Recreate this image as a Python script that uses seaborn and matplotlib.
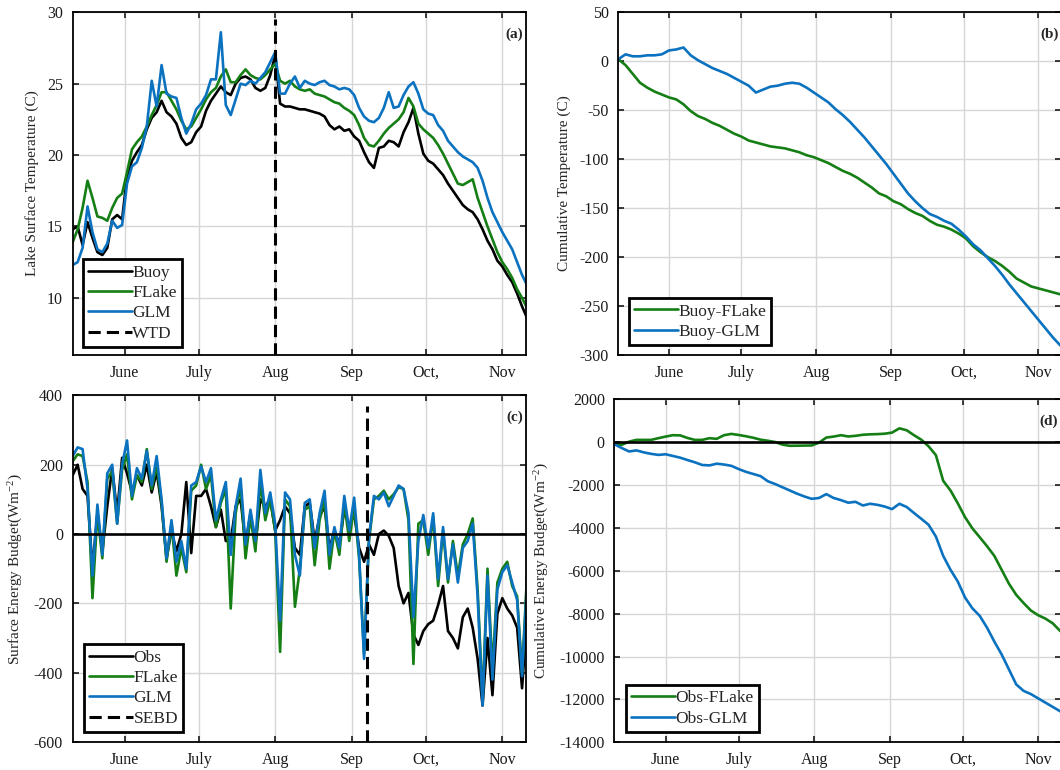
import matplotlib
matplotlib.use("Agg")
import matplotlib.pyplot as plt
import pandas as pd
import seaborn as sns
from matplotlib.lines import Line2D

# ---------------------------------------------------------------------------
# Data: lake surface temperature (every 2 days from 11 May), surface energy
# budget (every 2 days) and cumulative differences (every 3 days).
# ---------------------------------------------------------------------------
start_date = "2015-05-11"
end_date = "2015-11-10 14:00"

buoy_temp = [
    14.8, 15.0, 13.7, 15.3, 14.2, 13.2, 13.0, 13.5, 15.5, 15.8,
    15.5, 18.5, 19.6, 20.2, 20.7, 21.8, 22.6, 23.0, 23.8, 23.0,
    22.7, 22.2, 21.2, 20.7, 20.9, 21.6, 22.0, 23.1, 23.8, 24.3,
    24.8, 24.4, 24.2, 25.0, 25.4, 25.5, 25.3, 24.7, 24.5, 24.7,
    25.6, 27.0, 23.6, 23.4, 23.4, 23.3, 23.2, 23.2, 23.1, 23.0,
    22.9, 22.7, 22.1, 21.8, 22.0, 21.7, 21.8, 21.3, 21.0, 20.2,
    19.5, 19.1, 20.5, 20.6, 21.0, 20.9, 20.6, 21.6, 22.3, 23.3,
    21.5, 20.1, 19.6, 19.4, 19.0, 18.6, 18.0, 17.5, 17.0, 16.5,
    16.2, 16.0, 15.5, 14.8, 14.0, 13.4, 12.6, 12.2, 11.6, 11.1,
    10.3, 9.4, 8.6,
]
flake_temp = [
    13.9, 14.8, 16.3, 18.2, 17.0, 15.7, 15.6, 15.4, 16.3, 17.0,
    17.3, 18.8, 20.4, 20.9, 21.3, 22.0, 22.8, 23.5, 24.4, 24.4,
    23.8, 23.2, 22.4, 21.8, 22.0, 22.6, 23.2, 23.9, 24.4, 24.7,
    25.5, 26.0, 25.1, 25.1, 25.6, 26.0, 25.6, 25.4, 25.3, 25.6,
    26.0, 26.4, 25.2, 25.0, 25.2, 24.8, 24.6, 24.5, 24.6, 24.3,
    24.2, 24.1, 23.9, 23.7, 23.6, 23.3, 23.1, 22.8, 22.1, 21.2,
    20.7, 20.6, 21.0, 21.5, 21.9, 22.2, 22.5, 23.0, 24.0, 23.4,
    22.2, 21.8, 21.5, 21.2, 20.7, 20.1, 19.4, 18.7, 18.0, 17.9,
    18.1, 18.3, 17.0, 16.0, 15.0, 14.1, 13.2, 12.5, 12.0, 11.4,
    10.6, 10.0, 9.3,
]
glm_temp = [
    12.3, 12.5, 13.5, 16.4, 14.6, 13.4, 13.2, 13.8, 15.4, 14.9,
    15.1, 18.0, 19.2, 19.5, 20.5, 22.0, 25.2, 23.4, 26.3, 24.3,
    24.1, 24.0, 22.6, 21.5, 22.2, 23.2, 23.6, 24.2, 25.3, 25.3,
    28.6, 23.5, 22.8, 23.9, 25.0, 24.9, 25.2, 25.0, 25.4, 25.8,
    26.5, 27.2, 24.3, 24.3, 25.0, 25.5, 24.7, 25.2, 25.0, 24.9,
    25.1, 25.2, 24.9, 24.8, 24.6, 24.7, 24.6, 24.2, 23.3, 22.7,
    22.4, 22.3, 22.6, 23.3, 24.4, 23.3, 23.4, 24.2, 24.8, 25.1,
    24.3, 23.2, 22.9, 22.8, 22.1, 21.7, 21.0, 20.6, 20.2, 19.9,
    19.7, 19.5, 19.1, 18.2, 17.0, 16.0, 15.3, 14.6, 14.0, 13.4,
    12.5, 11.6, 10.9,
]

cum_buoy_flake = [
    2, -4, -13, -22, -27, -31, -34, -37, -39, -44,
    -51, -56, -59, -63, -66, -70, -74, -77, -81, -83,
    -85, -87, -88, -89, -91, -93, -96, -98, -101, -104,
    -108, -112, -115, -119, -124, -129, -135, -138, -143, -146,
    -151, -155, -158, -163, -167, -169, -172, -176, -181, -189,
    -195, -200, -204, -209, -215, -222, -226, -230, -232, -234,
    -236, -238, -239,
]
cum_buoy_glm = [
    2, 7, 5, 5, 6, 6, 7, 11, 12, 14,
    6, 1, -3, -7, -10, -13, -17, -21, -25, -32,
    -29, -26, -25, -23, -22, -23, -27, -32, -37, -42,
    -49, -55, -62, -70, -78, -87, -96, -105, -115, -125,
    -135, -143, -150, -156, -159, -163, -166, -172, -179, -187,
    -193, -201, -209, -218, -228, -237, -246, -255, -264, -273,
    -282, -290, -297,
]

obs_seb = [
    170, 200, 130, 110, -100, 60, -50, 80, 190, 60,
    220, 175, 120, 170, 140, 200, 120, 180, 80, -70,
    10, -50, 0, 150, -55, 110, 110, 130, 80, 20,
    70, -20, -20, 80, 100, -30, 60, -30, 100, 80,
    100, 10, 40, 80, 60, -40, -60, 80, 90, -20,
    50, 80, -40, 10, -30, 70, 20, 60, -40, -80,
    -30, -60, 0, 10, -5, -40, -150, -200, -170, -290,
    -320, -280, -260, -250, -205, -150, -280, -300, -330, -240,
    -215, -270, -360, -495, -300, -465, -230, -185, -215, -235,
    -270, -445, -240,
]
flake_seb = [
    210, 230, 225, 150, -185, 60, -70, 160, 180, 30,
    185, 230, 100, 170, 150, 245, 130, 200, 90, -80,
    30, -120, -40, -110, 125, 140, 200, 130, 170, 20,
    90, 130, -215, 60, 140, -70, 50, -50, 150, 40,
    100, 10, -340, 100, 80, -210, -100, 70, 80, -90,
    40, 100, -100, 10, -60, 90, -20, 80, -70, -345,
    -20, 100, 110, 125, 100, 115, 135, 130, 40, -375,
    30, 40, -60, 50, -150, 10, -140, -20, -120, -30,
    0, 45, -160, -480, -100, -390, -140, -100, -80, -150,
    -180, -400, -120,
]
glm_seb = [
    225, 250, 245, 130, -120, 85, -60, 175, 200, 30,
    200, 270, 110, 190, 160, 240, 140, 225, 100, -70,
    40, -80, -20, -100, 140, 150, 195, 150, 190, 40,
    100, 150, -60, 80, 160, -30, 70, -20, 185, 60,
    120, 30, -250, 120, 100, -60, -120, 90, 100, -40,
    60, 125, -60, 20, -40, 110, 10, 105, -60, -360,
    -10, 110, 100, 120, 80, 110, 140, 130, 60, -240,
    -20, 55, -40, 60, -130, 20, -130, -30, -140, -40,
    -20, 30, -180, -495, -120, -420, -160, -110, -90, -140,
    -190, -410, -140,
]

cum_obs_flake = [
    -90, -120, 30, 110, 110, 110, 190, 265, 330, 320,
    200, 110, 110, 190, 160, 330, 390, 340, 280, 210,
    120, 70, 10, -110, -165, -160, -155, -150, -20, 220,
    265, 330, 270, 300, 350, 370, 380, 400, 450, 650,
    560, 330, 120, -190, -600, -1800, -2250, -2850, -3500, -4020,
    -4430, -4850, -5300, -5950, -6600, -7120, -7500, -7850, -8070, -8230,
    -8450, -8800, -9050,
]
cum_obs_glm = [
    -95, -270, -430, -380, -470, -540, -590, -560, -640, -720,
    -830, -935, -1060, -1080, -1000, -1040, -1100, -1250, -1380, -1480,
    -1580, -1820, -1950, -2100, -2250, -2400, -2530, -2640, -2600, -2420,
    -2600, -2700, -2820, -2780, -2950, -2870, -2920, -3000, -3120, -2870,
    -3020, -3300, -3570, -3850, -4400, -5300, -5950, -6500, -7250, -7750,
    -8100, -8650, -9300, -9900, -10600, -11300, -11600, -11750, -11950, -12150,
    -12350, -12550, -12700,
]

wtd_date = "2015-08-01"
sebd_date = "2015-09-07"

month_ticks = ["2015-06-01", "2015-07-01", "2015-08-01",
               "2015-09-01", "2015-10-01", "2015-11-01"]
month_labels = ["June", "July", "Aug", "Sep", "Oct,", "Nov"]

# ---------------------------------------------------------------------------
sns.set_style("ticks")
plt.rcParams["font.family"] = ["Liberation Serif", "DejaVu Serif"]
plt.rcParams["mathtext.fontset"] = "custom"
plt.rcParams["mathtext.rm"] = "Liberation Serif"
plt.rcParams["mathtext.it"] = "Liberation Serif:italic"
plt.rcParams["axes.unicode_minus"] = False

BLACK = "#000000"
GREEN = "#157f15"
BLUE = "#0b72c0"
LW = 1.9

dates2 = pd.date_range(start_date, periods=len(buoy_temp), freq="2D")
dates3 = pd.date_range(start_date, periods=len(cum_buoy_flake), freq="3D")

fig = plt.figure(figsize=(10.6, 7.7), dpi=100)
ax_a = fig.add_axes([0.0686, 0.5390, 0.4276, 0.4451])
ax_b = fig.add_axes([0.5833, 0.5390, 0.4181, 0.4451])
ax_c = fig.add_axes([0.0686, 0.0364, 0.4276, 0.4501])
ax_d = fig.add_axes([0.5797, 0.0360, 0.4217, 0.4453])


def style_axes(ax, ylim, yticks, ylabel, tag):
    ax.set_xlim(pd.Timestamp(start_date), pd.Timestamp(end_date))
    ax.set_xticks(pd.to_datetime(month_ticks))
    ax.set_xticklabels(month_labels)
    ax.set_ylim(*ylim)
    ax.set_yticks(yticks)
    ax.set_yticklabels([str(v) for v in yticks])
    ax.set_xlabel("")
    ax.set_ylabel(ylabel, fontsize=11, labelpad=6)
    ax.grid(True, color="#d6d6d6", lw=1.0)
    ax.set_axisbelow(True)
    ax.tick_params(which="both", direction="in", top=True, right=True,
                   length=4, width=1.2, pad=7, labelsize=11.5,
                   colors="#1a1a1a")
    for sp in ax.spines.values():
        sp.set_visible(True)
        sp.set_color("black")
        sp.set_linewidth(1.3)
    ax.text(0.993, 0.937, tag, transform=ax.transAxes, ha="right",
            va="center", fontsize=11, fontweight="bold")


def add_legend(ax, handles, labels, anchor):
    leg = ax.legend(handles, labels, loc="lower left", bbox_to_anchor=anchor,
                    borderaxespad=0, fontsize=12.5, handlelength=2.5,
                    handletextpad=0.05, labelspacing=0.24, borderpad=0.3,
                    fancybox=False, framealpha=1, edgecolor="black")
    leg.get_frame().set_linewidth(2.0)


def dashed_handle():
    return Line2D([], [], color="black", lw=2.2, ls=(0, (4, 2)))


# (a) lake surface temperature
for vals, col, name in [(buoy_temp, BLACK, "Buoy"),
                        (flake_temp, GREEN, "FLake"),
                        (glm_temp, BLUE, "GLM")]:
    sns.lineplot(x=dates2, y=vals, color=col, lw=LW, ax=ax_a, label=name)
ax_a.axvline(pd.Timestamp(wtd_date), ymin=0, ymax=0.98, color="black",
             lw=2.2, ls=(0, (4, 2)))
style_axes(ax_a, (6, 30), [10, 15, 20, 25, 30],
           "Lake Surface Temperature (C)", "(a)")
h = [Line2D([], [], color=c, lw=LW) for c in (BLACK, GREEN, BLUE)]
add_legend(ax_a, h + [dashed_handle()], ["Buoy", "FLake", "GLM", "WTD"],
           (0.0227, 0.0233))

# (b) cumulative temperature difference
sns.lineplot(x=dates3, y=cum_buoy_flake, color=GREEN, lw=LW, ax=ax_b,
             label="Buoy-FLake")
sns.lineplot(x=dates3, y=cum_buoy_glm, color=BLUE, lw=LW, ax=ax_b,
             label="Buoy-GLM")
style_axes(ax_b, (-300, 50), list(range(-300, 51, 50)),
           "Cumulative Temperature (C)", "(b)")
h = [Line2D([], [], color=c, lw=LW) for c in (GREEN, BLUE)]
add_legend(ax_b, h, ["Buoy-FLake", "Buoy-GLM"], (0.024, 0.029))

# (c) surface energy budget
for vals, col, name in [(obs_seb, BLACK, "Obs"),
                        (flake_seb, GREEN, "FLake"),
                        (glm_seb, BLUE, "GLM")]:
    sns.lineplot(x=dates2, y=vals, color=col, lw=LW, ax=ax_c, label=name)
ax_c.axhline(0, color="black", lw=1.9)
ax_c.axvline(pd.Timestamp(sebd_date), ymin=0, ymax=0.97, color="black",
             lw=2.2, ls=(0, (4, 2)))
style_axes(ax_c, (-600, 400), list(range(-600, 401, 200)),
           "Surface Energy Budget(Wm$^{-2}$)", "(c)")
h = [Line2D([], [], color=c, lw=LW) for c in (BLACK, GREEN, BLUE)]
add_legend(ax_c, h + [dashed_handle()], ["Obs", "FLake", "GLM", "SEBD"],
           (0.025, 0.029))

# (d) cumulative energy budget difference
sns.lineplot(x=dates3, y=cum_obs_flake, color=GREEN, lw=LW, ax=ax_d,
             label="Obs-FLake")
sns.lineplot(x=dates3, y=cum_obs_glm, color=BLUE, lw=LW, ax=ax_d,
             label="Obs-GLM")
ax_d.axhline(0, color="black", lw=1.9)
style_axes(ax_d, (-14000, 2000), list(range(-14000, 2001, 2000)),
           "Cumulative Energy Budget(Wm$^{-2}$)", "(d)")
h = [Line2D([], [], color=c, lw=LW) for c in (GREEN, BLUE)]
add_legend(ax_d, h, ["Obs-FLake", "Obs-GLM"], (0.026, 0.030))

fig.savefig("out.png", dpi=100)
